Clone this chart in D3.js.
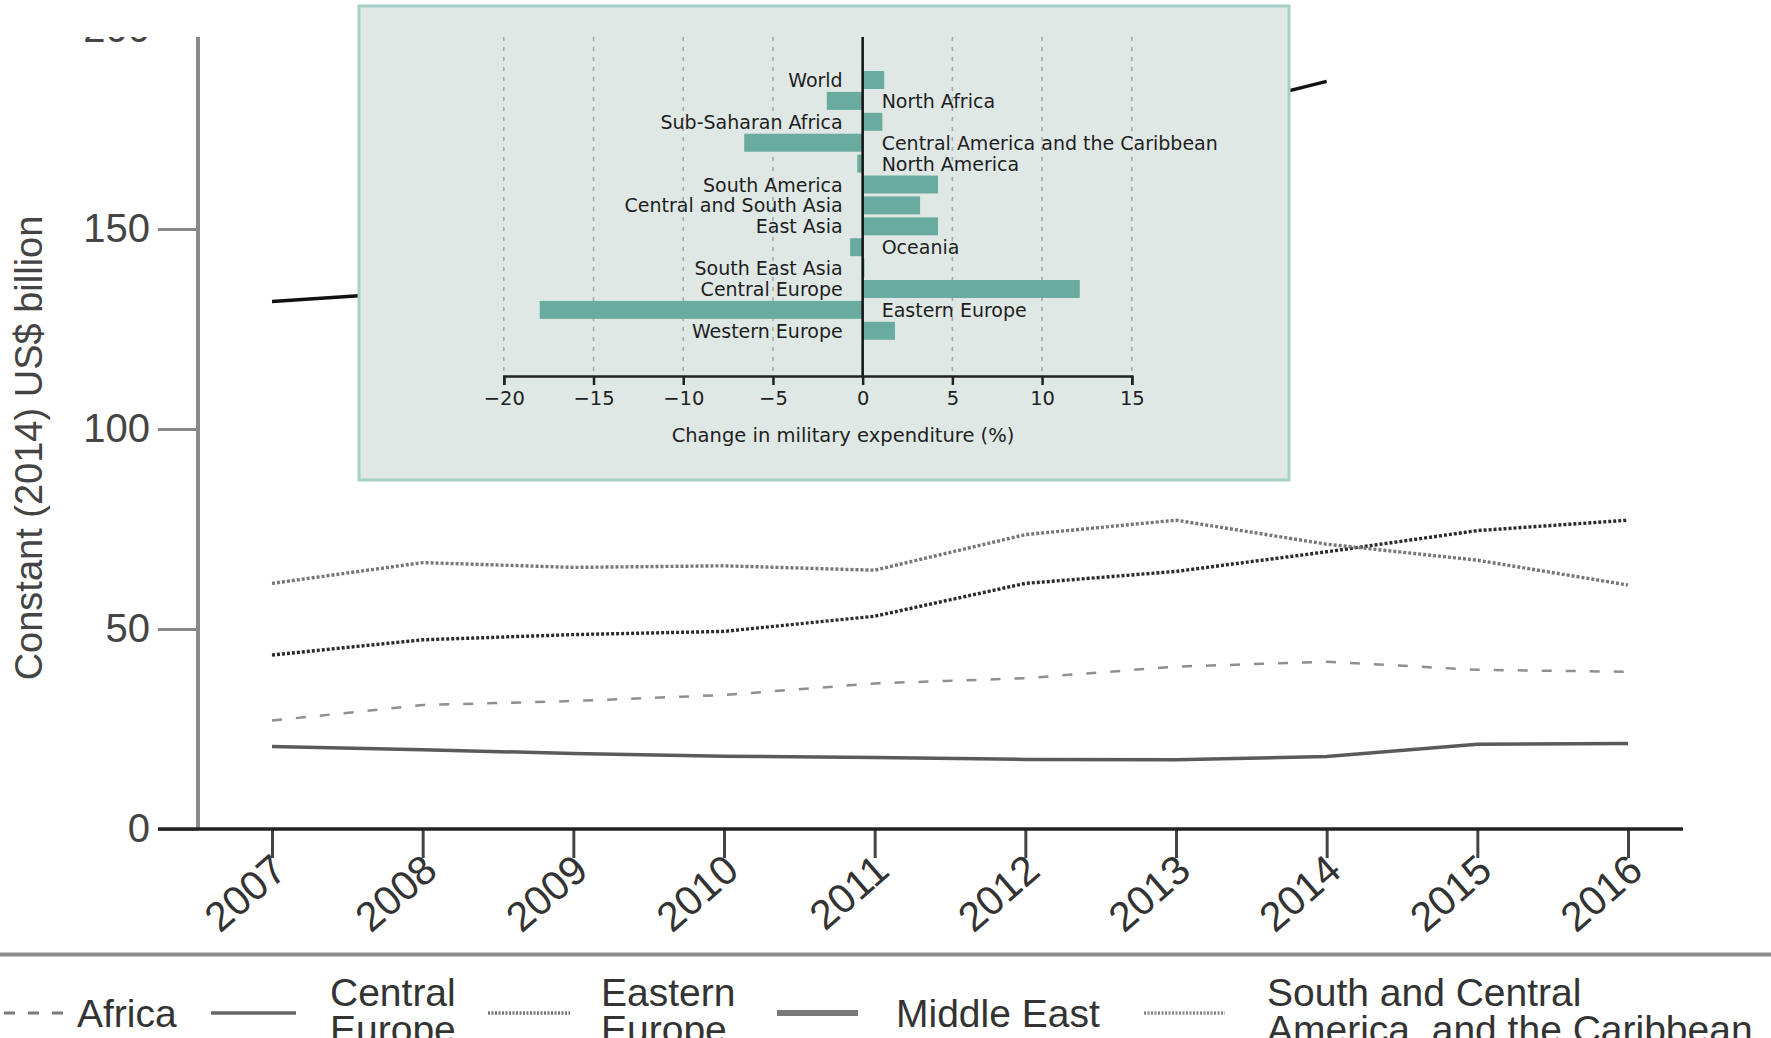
<!DOCTYPE html>
<html>
<head>
<meta charset="utf-8">
<script src="https://cdn.jsdelivr.net/npm/d3@7"></script>
<style>
  html, body { margin: 0; padding: 0; background: #ffffff; }
  svg { display: block; }
</style>
</head>
<body>
<svg id="chart" width="1771" height="1038"></svg>
<script>
// ---------- Data ----------
const years = [2007, 2008, 2009, 2010, 2011, 2012, 2013, 2014, 2015, 2016];
const yTicks = [0, 50, 100, 150, 200];

const africa              = [27.1, 31.0, 32.0, 33.5, 36.4, 37.7, 40.6, 41.8, 39.8, 39.3];
const centralEurope       = [20.6, 19.8, 18.9, 18.2, 17.9, 17.4, 17.3, 18.1, 21.2, 21.4];
const easternEurope       = [43.5, 47.3, 48.6, 49.4, 53.2, 61.4, 64.4, 69.3, 74.6, 77.2];
const middleEast          = [131.9, 134.4, 140.0, 142.0, 150.0, 165.0, 177.5, 186.9, null, null];
const southCentralAmerica = [61.4, 66.6, 65.4, 65.8, 64.7, 73.6, 77.2, 71.2, 67.2, 61.0];

const seriesNames = ["Africa", "Central Europe", "Eastern Europe", "Middle East", "South and Central America, and the Caribbean"];
const legendLines = [["Africa"], ["Central", "Europe"], ["Eastern", "Europe"], ["Middle East"], ["South and Central", "America, and the Caribbean"]];

// inset bar chart
const regions = ["World", "North Africa", "Sub-Saharan Africa", "Central America and the Caribbean",
  "North America", "South America", "Central and South Asia", "East Asia", "Oceania",
  "South East Asia", "Central Europe", "Eastern Europe", "Western Europe"];
const changePct = [1.2, -2.0, 1.1, -6.6, -0.3, 4.2, 3.2, 4.2, -0.7, 0.1, 12.1, -18.0, 1.8];
const insetTicks = [-20, -15, -10, -5, 0, 5, 10, 15];

// ---------- Setup ----------
const svg = d3.select("#chart");
const mainFont = "'Liberation Sans', Arial, sans-serif";
const insetFont = "'DejaVu Sans', sans-serif";

const x = d3.scalePoint().domain(years).range([272, 1628]);
const y = d3.scaleLinear().domain([0, 200]).range([829, 29]);

const seriesData = [africa, centralEurope, easternEurope, middleEast, southCentralAmerica];
const styles = [
  { stroke: "#8f8f8f", width: 2.5, dash: "10,14" },
  { stroke: "#5a5a5a", width: 3.5, dash: null },
  { stroke: "#2a2a2a", width: 3.4, dash: "3,2" },
  { stroke: "#111111", width: 3.5, dash: null },
  { stroke: "#777777", width: 3.4, dash: "3,2" }
];
const legendStyles = [
  { stroke: "#7a7a7a", width: 3, dash: "11,13" },
  { stroke: "#666666", width: 3.5, dash: null },
  { stroke: "#777777", width: 3.5, dash: "2,1.5" },
  { stroke: "#7a7a7a", width: 6, dash: null },
  { stroke: "#8a8a8a", width: 3.5, dash: "2,1.5" }
];

// ---------- Y axis ----------
const yAxis = svg.append("g").attr("transform", "translate(198,0)")
  .call(d3.axisLeft(y).tickValues(yTicks).tickSize(40).tickPadding(8));
yAxis.select(".domain").remove();
yAxis.selectAll(".tick line").attr("stroke", "#8a8a8a").attr("stroke-width", 3);
yAxis.selectAll(".tick text").attr("font-family", mainFont).attr("font-size", 40).attr("fill", "#444");

svg.append("line").attr("x1", 198).attr("x2", 198).attr("y1", y(200)).attr("y2", y(0))
  .attr("stroke", "#8a8a8a").attr("stroke-width", 4);

svg.append("text")
  .attr("transform", "translate(29,448) rotate(-90)")
  .attr("text-anchor", "middle").attr("dominant-baseline", "central")
  .attr("font-family", mainFont).attr("font-size", 38).attr("fill", "#444")
  .text("Constant (2014) US$ billion");

// ---------- Lines ----------
const line = d3.line()
  .defined(d => d.v != null)
  .x(d => x(d.year)).y(d => y(d.v));

seriesData.forEach((vals, i) => {
  const pts = years.map((yr, j) => ({ year: yr, v: vals[j] }));
  svg.append("path").datum(pts)
    .attr("d", line)
    .attr("fill", "none")
    .attr("stroke", styles[i].stroke)
    .attr("stroke-width", styles[i].width)
    .attr("stroke-dasharray", styles[i].dash)
    .attr("stroke-linejoin", "round");
});

// ---------- X axis ----------
const xAxis = svg.append("g").attr("transform", "translate(0,829)")
  .call(d3.axisBottom(x).tickSize(29).tickPadding(4));
xAxis.select(".domain").remove();
xAxis.selectAll(".tick line").attr("stroke", "#444").attr("stroke-width", 3);
xAxis.selectAll(".tick text")
  .attr("font-family", mainFont).attr("font-size", 41).attr("fill", "#333")
  .attr("text-anchor", "end")
  .attr("x", 0).attr("y", 0).attr("dy", "0.35em")
  .attr("transform", "translate(7,34) rotate(-41)");
svg.append("line").attr("x1", 158).attr("x2", 1683).attr("y1", 829).attr("y2", 829)
  .attr("stroke", "#222").attr("stroke-width", 3.5);

// top mask (the figure is cropped at the top)
svg.append("rect").attr("x", 0).attr("y", 0).attr("width", 1771).attr("height", 37).attr("fill", "#fff");

// ---------- Separator & legend ----------
svg.append("line").attr("x1", 0).attr("x2", 1771).attr("y1", 954.5).attr("y2", 954.5)
  .attr("stroke", "#8c8c8c").attr("stroke-width", 4);

const legendSym = [[-20, 66], [211, 296], [488, 570], [777, 858], [1144, 1225]];
const legendTextX = [77, 330, 601, 896, 1267];
const legend = svg.append("g");
seriesNames.forEach((name, i) => {
  legend.append("line")
    .attr("x1", legendSym[i][0]).attr("x2", legendSym[i][1])
    .attr("y1", 1013).attr("y2", 1013)
    .attr("stroke", legendStyles[i].stroke)
    .attr("stroke-width", legendStyles[i].width)
    .attr("stroke-dasharray", legendStyles[i].dash);
  const t = legend.append("text")
    .attr("font-family", mainFont).attr("font-size", 39).attr("fill", "#333");
  const lines = legendLines[i];
  if (lines.length === 1) {
    t.attr("x", legendTextX[i]).attr("y", 1027).text(lines[0]);
  } else {
    lines.forEach((ln, k) => {
      t.append("tspan").attr("x", legendTextX[i]).attr("y", 1006 + k * 37).text(ln);
    });
  }
});

// ---------- Inset ----------
const inset = svg.append("g");
inset.append("rect").attr("x", 359).attr("y", 6).attr("width", 930).attr("height", 474)
  .attr("fill", "#dfe8e5").attr("stroke", "#a6d0c6").attr("stroke-width", 3);

const xs = d3.scaleLinear().domain([-20, 15]).range([503.8, 1131.8]);
const ys = d3.scaleBand().domain(regions).range([68.1, 342.7]).padding(0.14);

// grid
inset.selectAll(".grid").data(insetTicks.filter(t => t !== 0)).enter().append("line")
  .attr("x1", d => xs(d)).attr("x2", d => xs(d))
  .attr("y1", 37).attr("y2", 376)
  .attr("stroke", "#a8a8a8").attr("stroke-width", 1.6).attr("stroke-dasharray", "4,6");

// bars
inset.selectAll(".bar").data(regions).enter().append("rect")
  .attr("x", (d, i) => xs(Math.min(0, changePct[i])))
  .attr("width", (d, i) => Math.abs(xs(changePct[i]) - xs(0)))
  .attr("y", d => ys(d))
  .attr("height", ys.bandwidth())
  .attr("fill", "#6aab9f");

// zero line
inset.append("line").attr("x1", xs(0)).attr("x2", xs(0)).attr("y1", 37).attr("y2", 376)
  .attr("stroke", "#111").attr("stroke-width", 2.5);

// labels
inset.selectAll(".lbl").data(regions).enter().append("text")
  .attr("x", (d, i) => changePct[i] >= 0 ? xs(0) - 20 : xs(0) + 19)
  .attr("y", d => ys(d) + ys.bandwidth() / 2)
  .attr("text-anchor", (d, i) => changePct[i] >= 0 ? "end" : "start")
  .attr("dominant-baseline", "central")
  .attr("font-family", insetFont).attr("font-size", 19).attr("fill", "#1e1e1e")
  .text(d => d);

// axis
const ia = inset.append("g").attr("transform", "translate(0,376)")
  .call(d3.axisBottom(xs).tickValues(insetTicks).tickSize(9).tickPadding(6));
ia.select(".domain").attr("stroke", "#222").attr("stroke-width", 2.5);
ia.selectAll(".tick line").attr("stroke", "#222").attr("stroke-width", 2.5);
ia.selectAll(".tick text").attr("font-family", insetFont).attr("font-size", 19.5).attr("fill", "#222");

inset.append("text").attr("x", 843).attr("y", 435)
  .attr("text-anchor", "middle").attr("dominant-baseline", "central")
  .attr("font-family", insetFont).attr("font-size", 19.5).attr("fill", "#222")
  .text("Change in military expenditure (%)");
</script>
</body>
</html>
